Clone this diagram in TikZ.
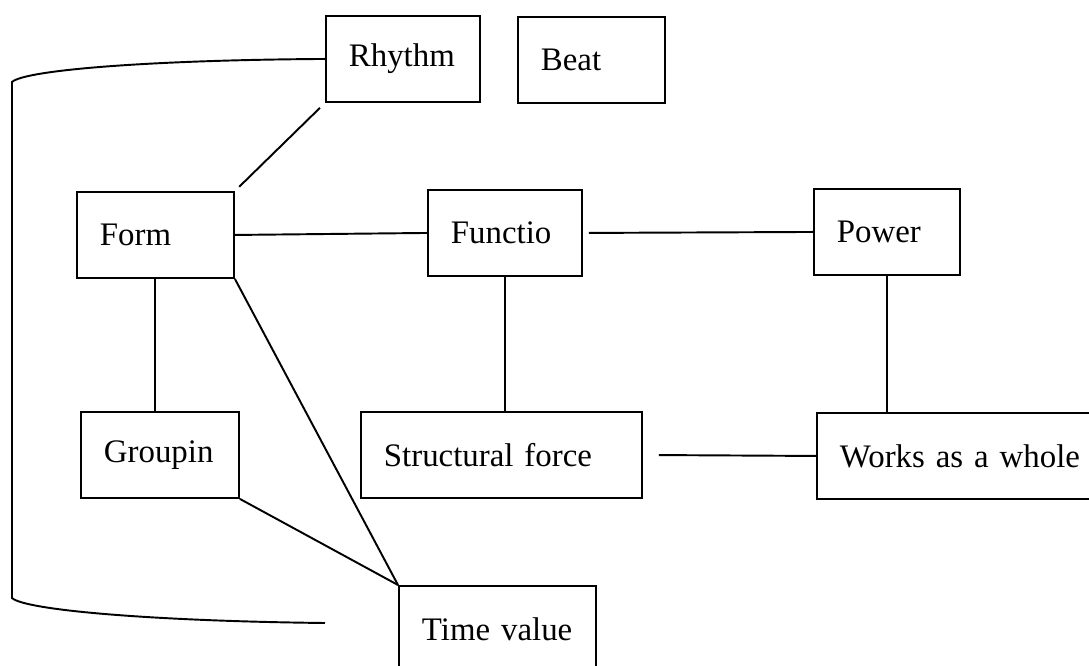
\documentclass[tikz,border=0pt]{standalone}
\usepackage{fontspec}
\setmainfont{Liberation Serif}
\usetikzlibrary{calc,positioning}

\begin{document}
\begin{tikzpicture}[x=0.02cm, y=-0.02cm]
  % --- Styles (boxes with left-set text, plain links) ---
    \tikzset{
      box/.style  = {draw,line width=1.1pt,anchor=north west,rectangle,
                     inner xsep=0.46cm,inner ysep=0pt,minimum height=1.72cm,
                     align=left,text width=#1,
                     font=\fontsize{18.7}{22}\selectfont},
      link/.style = {line width=1.1pt}
    }
    \clip (0,0) rectangle (1089,666);

    % --- Concept boxes ---
    \node[box=2.16cm] (rhythm)     at (325,15)  {Rhythm};
    \node[box=2.02cm] (beat)       at (517,16)  {Beat};
    \node[box=2.22cm] (form)       at (76,191)  {Form};
    \node[box=2.16cm] (functio)    at (427,189) {Functio};
    \node[box=2.00cm] (power)      at (813,188) {Power};
    \node[box=2.24cm] (groupin)    at (80,411)  {Groupin};
    \node[box=4.70cm] (structural) at (360,411) {Structural force};
    \node[box=4.88cm] (works)      at (816,412) {Works as a whole};
    \node[box=3.02cm] (timeval)    at (398,585) {Time value};

    % --- Free end of the long bracket on the left ---
    \coordinate (bendTop) at (12,82);
    \coordinate (bendBot) at (12,598);
    \coordinate (loopEnd) at (325,623);

    % --- Links ---
    \draw[link] (rhythm.west) .. controls (150,60) and (25,70) .. (bendTop)
                -- (bendBot) .. controls (25,610) and (150,621) .. (loopEnd);
    \draw[link,shorten <=0.14cm,shorten >=0.12cm] (rhythm.south west) -- (form.north east);
    \draw[link] (form.east) -- (functio.west);
    \draw[link,shorten <=0.12cm] (functio.east) -- (power.west);
    \draw[link] (form.south) -- (form.south |- groupin.north);
    \draw[link] (form.south east) -- (timeval.north west);
    \draw[link] (groupin.south east) -- (timeval.north west);
    \draw[link] (functio.south) -- (functio.south |- structural.north);
    \draw[link] (power.south) -- (power.south |- works.north);
    \draw[link,shorten <=0.32cm] (structural.east) -- (works.west);

\end{tikzpicture}
\end{document}
